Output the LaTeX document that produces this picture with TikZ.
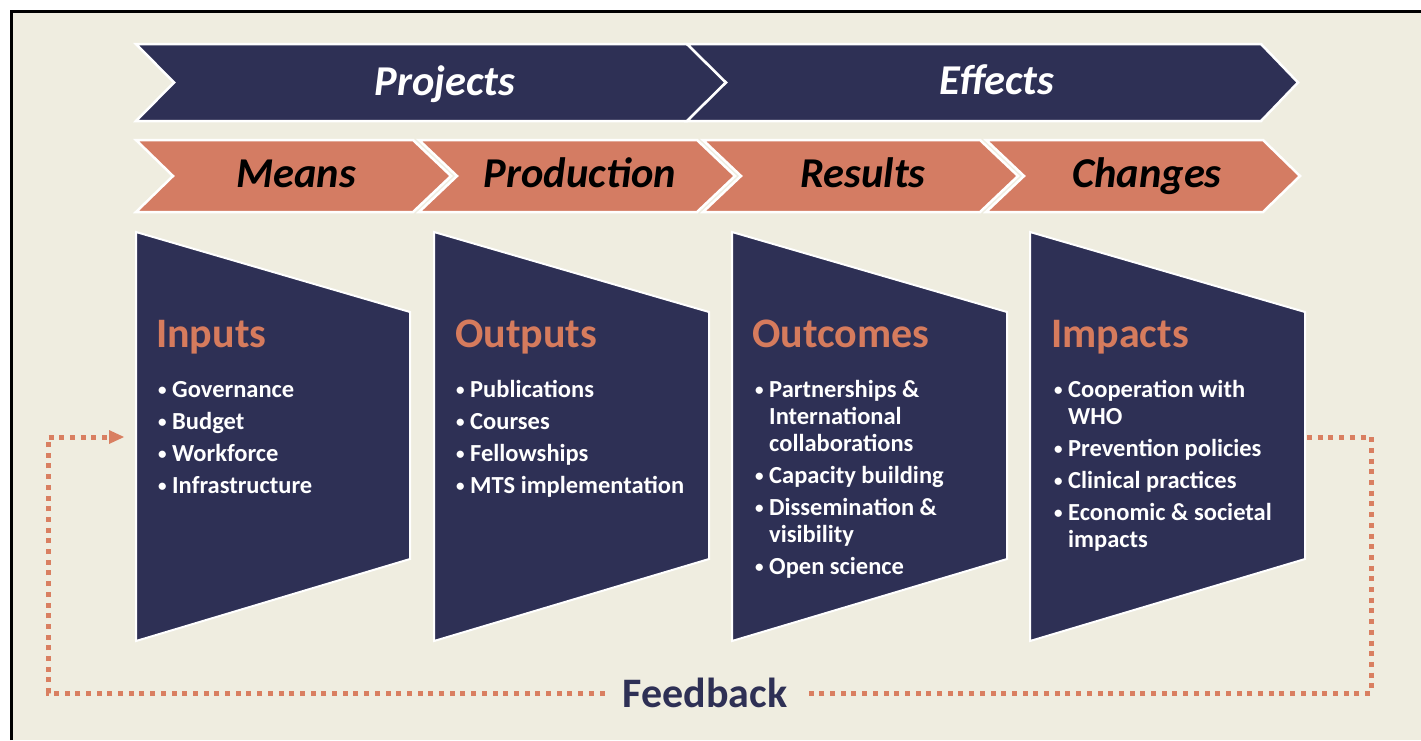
\documentclass[tikz,border=0pt]{standalone}
\usepackage{fontspec}
\setmainfont{Carlito}
\usetikzlibrary{arrows.meta}
\definecolor{navy}{HTML}{2E3055}
\definecolor{chevor}{HTML}{D47C63}
\definecolor{titleor}{HTML}{D67B5D}
\definecolor{beige}{HTML}{EFEDE0}
\definecolor{fbor}{HTML}{D97F61}
\newcommand\bul{\makebox[14pt][l]{\raisebox{1.8pt}{\fontsize{17}{17}\selectfont •}}}
\newcommand\ind{\hspace*{14pt}}
\tikzset{
  navychev/.style={fill=navy, draw=white, line width=2.5pt},
  orchev/.style={fill=chevor, draw=white, line width=2.5pt},
  trap/.style={fill=navy, draw=white, line width=2pt},
  chevlabel/.style={anchor=base, inner sep=0pt, font=\fontsize{42.5}{42.5}\selectfont\bfseries\itshape},
  ttl/.style={anchor=base west, inner sep=0pt, text=titleor, font=\fontsize{42}{42}\selectfont\bfseries},
  lst/.style={anchor=base west, inner sep=0pt, text=white, font=\fontsize{24.5}{27}\selectfont\bfseries},
  fbline/.style={draw=fbor, line width=5pt, dash pattern=on 5pt off 5.7pt},
}
\begin{document}
\begin{tikzpicture}[x=1pt,y=-1pt]
\useasboundingbox (0,0) rectangle (1421,740);
\fill[white] (0,0) rectangle (1421,740);
\fill[beige] (11.5,11.5) rectangle (1421,740);
\draw[black, line width=2.5pt] (11.5,740) -- (11.5,11.5) -- (1421,11.5);

% top navy chevrons
\draw[navychev] (136,44) -- (687,44) -- (726,82.5) -- (687,121) -- (136,121) -- (174,82.5) -- cycle;
\draw[navychev] (687,44) -- (1261,44) -- (1298,82.5) -- (1261,121) -- (687,121) -- (726,82.5) -- cycle;
\node[chevlabel, text=white] (projects) at (445,95) {Projects};
\node[chevlabel, text=white] (effects) at (997,94) {Effects};

% orange chevrons
\draw[orchev] (136,140) -- (413,140) -- (451,176) -- (413,212) -- (136,212) -- (173,176) -- cycle;
\draw[orchev] (419,140) -- (697,140) -- (735,176) -- (697,212) -- (419,212) -- (457,176) -- cycle;
\draw[orchev] (703,140) -- (980,140) -- (1018,176) -- (980,212) -- (703,212) -- (741,176) -- cycle;
\draw[orchev] (986,140) -- (1263,140) -- (1300,176) -- (1263,212) -- (986,212) -- (1024,176) -- cycle;
\node[chevlabel, text=black] (means) at (296,187) {Means};
\node[chevlabel, text=black] (production) at (580,187) {Production};
\node[chevlabel, text=black] (results) at (863,187) {Results};
\node[chevlabel, text=black] (changes) at (1147,187) {Changes};

% trapezoids
\draw[trap] (136,232) -- (410,312) -- (410,559) -- (136,641) -- cycle;
\draw[trap] (434,232) -- (709,312) -- (709,559) -- (434,641) -- cycle;
\draw[trap] (732,232) -- (1007,312) -- (1007,559) -- (732,641) -- cycle;
\draw[trap] (1030,232) -- (1305,312) -- (1305,559) -- (1030,641) -- cycle;

\node[ttl] (inputs) at (156,347) {Inputs};
\node[ttl] (outputs) at (455,347) {Outputs};
\node[ttl] (outcomes) at (752,347) {Outcomes};
\node[ttl] (impacts) at (1051,347) {Impacts};

\node[lst] (inlist) at (158,397) {\begin{tabular}[t]{@{}l@{}}
\bul Governance\\[5pt]
\bul Budget\\[5pt]
\bul Workforce\\[5pt]
\bul Infrastructure
\end{tabular}};
\node[lst] (outlist) at (456,397) {\begin{tabular}[t]{@{}l@{}}
\bul Publications\\[5pt]
\bul Courses\\[5pt]
\bul Fellowships\\[5pt]
\bul MTS implementation
\end{tabular}};
\node[lst] (outclist) at (755,397) {\begin{tabular}[t]{@{}l@{}}
\bul Partnerships \&\\
\ind International\\
\ind collaborations\\[5pt]
\bul Capacity building\\[5pt]
\bul Dissemination \&\\
\ind visibility\\[5pt]
\bul Open science
\end{tabular}};
\node[lst] (implist) at (1054,397) {\begin{tabular}[t]{@{}l@{}}
\bul Cooperation with\\
\ind WHO\\[5pt]
\bul Prevention policies\\[5pt]
\bul Clinical practices\\[5pt]
\bul Economic \& societal\\
\ind impacts
\end{tabular}};

% feedback loop
\node[font=\fontsize{42}{42}\selectfont\bfseries, text=navy, inner xsep=18pt, inner ysep=0pt] (fb) at (705,693) {Feedback};
\coordinate (impR) at (1307,437);
\coordinate (cR) at (1371,693);
\coordinate (cL) at (48,693);
\coordinate (inL) at (124,437);
\draw[fbline] (impR) -| (cR) -- (fb.east);
\draw[fbline] (fb.west) -- (cL) |- ([xshift=-14pt]inL);
\fill[fbor] (inL) -- ++(-15,-7) -- ++(0,14) -- cycle;
\end{tikzpicture}
\end{document}
